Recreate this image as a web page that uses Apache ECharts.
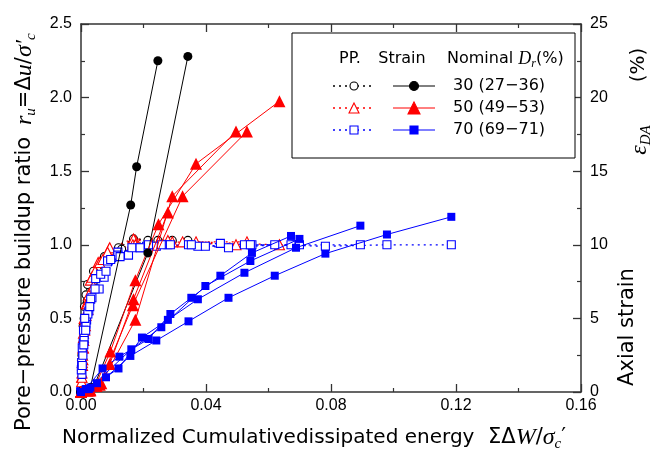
<!DOCTYPE html>
<html>
<head>
<meta charset="utf-8">
<script src="https://cdn.jsdelivr.net/npm/echarts@6/dist/echarts.min.js"></script>
<style>html,body{margin:0;padding:0;background:#fff;}#chart{width:652px;height:452px;}</style>
</head>
<body>
<div id="chart"></div>
<script>
// ---------- tick labels ----------
const xTickLabels = ['0.00', '0.04', '0.08', '0.12', '0.16'];
const ruTickLabels = ['0.0', '0.5', '1.0', '1.5', '2.0', '2.5'];
const strainTickLabels = ['0', '5', '10', '15', '20', '25'];
const legendLabels = ['30 (27−36)', '50 (49−53)', '70 (69−71)'];

// ---------- Dr 30 % : [ΣΔW/σc', value] ----------
const dr30_pp_1 = [[0,0],[0.0003,0.25],[0.0007,0.45],[0.0011,0.58],[0.0016,0.66],[0.0021,0.73],[0.004,0.82],[0.0075,0.92],[0.012,0.98],[0.0168,1.04],[0.0246,1.03]];
const dr30_pp_2 = [[0,0],[0.0005,0.3],[0.001,0.5],[0.002,0.62],[0.004,0.75],[0.008,0.9],[0.013,0.97],[0.0214,1.03],[0.0292,1.03],[0.0342,1.03]];
const dr30_strain_1 = [[0,0],[0.0015,0.1],[0.003,0.3],[0.0159,12.7],[0.0178,15.3],[0.0246,22.5]];
const dr30_strain_2 = [[0,0],[0.002,0.1],[0.004,0.3],[0.0214,9.45],[0.0342,22.8]];

// ---------- Dr 50 % ----------
const dr50_pp_1 = [[0,0],[0.0002,0.1],[0.0004,0.2],[0.0006,0.3],[0.0008,0.4],[0.001,0.5],[0.0017,0.6],[0.003,0.76],[0.0055,0.88],[0.009,0.97],[0.0174,1.03],[0.0248,1.02],[0.0368,1.02],[0.0635,1.0]];
const dr50_pp_2 = [[0,0],[0.0003,0.13],[0.0005,0.25],[0.0008,0.37],[0.0011,0.48],[0.002,0.6],[0.0035,0.78],[0.006,0.88],[0.0092,0.98],[0.0168,1.04],[0.0278,1.03]];
const dr50_pp_3 = [[0,0],[0.0002,0.07],[0.0005,0.18],[0.0008,0.3],[0.0012,0.42],[0.0016,0.52],[0.0025,0.66],[0.0045,0.82],[0.0085,0.95],[0.0166,1.0],[0.0325,1.02],[0.0531,1.02]];
const dr50_pp_4 = [[0,0],[0.0003,0.1],[0.0006,0.22],[0.0009,0.35],[0.0014,0.45],[0.0022,0.56],[0.004,0.72],[0.007,0.9],[0.0174,1.0],[0.0292,1.02],[0.0496,1.0]];
const dr50_strain_1 = [[0,0],[0.002,0.1],[0.0045,0.4],[0.0094,2.75],[0.0174,7.6],[0.0248,11.4],[0.0368,15.5],[0.0635,19.75]];
const dr50_strain_2 = [[0,0],[0.0025,0.1],[0.005,0.4],[0.0092,1.9],[0.0168,6.3],[0.0278,12.2]];
const dr50_strain_3 = [[0,0],[0.003,0.1],[0.006,0.5],[0.0166,5.9],[0.0325,13.3],[0.0531,17.7]];
const dr50_strain_4 = [[0,0],[0.003,0.15],[0.0065,0.6],[0.0174,4.9],[0.0292,13.3],[0.0496,17.7]];

// ---------- Dr 70 % ----------
const dr70_pp_1 = [[0,0],[0.0002,0.2],[0.0005,0.27],[0.0007,0.33],[0.001,0.39],[0.0013,0.44],[0.0018,0.49],[0.0025,0.55],[0.0035,0.64],[0.0058,0.7],[0.0085,0.89],[0.0118,0.95],[0.019,0.98],[0.0241,0.99],[0.0344,1.0],[0.0472,0.98],[0.062,1.0],[0.0782,0.99],[0.0979,1.0],[0.1185,1.0]];
const dr70_pp_2 = [[0,0],[0.0003,0.12],[0.0006,0.25],[0.001,0.35],[0.0016,0.46],[0.0022,0.53],[0.0047,0.77],[0.0074,0.78],[0.0118,0.93],[0.0152,0.93],[0.021,0.99],[0.0278,1.0],[0.0374,0.99],[0.0523,1.0],[0.0688,1.0],[0.0894,1.0]];
const dr70_pp_3 = [[0,0],[0.0001,0.15],[0.0004,0.3],[0.0008,0.42],[0.0012,0.5],[0.0031,0.63],[0.0063,0.8],[0.0095,0.9],[0.0163,0.98],[0.0216,1.0],[0.0286,1.0],[0.0353,1.0],[0.0446,1.01],[0.0547,1.0],[0.0672,1.0]];
const dr70_pp_4 = [[0,0],[0.0004,0.18],[0.0009,0.32],[0.0015,0.42],[0.0028,0.58],[0.0045,0.7],[0.008,0.82],[0.0125,0.92],[0.0189,0.98],[0.0257,1.0],[0.0398,0.99],[0.0542,1.0],[0.0699,1.0]];
const dr70_strain_1 = [[0,0],[0.0025,0.2],[0.008,1.0],[0.0158,2.45],[0.0241,3.5],[0.0344,4.8],[0.0472,6.4],[0.062,7.9],[0.0782,9.4],[0.0979,10.7],[0.1185,11.9]];
const dr70_strain_2 = [[0,0],[0.002,0.2],[0.0051,0.6],[0.012,1.6],[0.0195,3.7],[0.0278,4.9],[0.0374,6.3],[0.0523,8.1],[0.0688,9.8],[0.0894,11.3]];
const dr70_strain_3 = [[0,0],[0.0015,0.2],[0.0069,1.6],[0.0123,2.4],[0.0216,3.6],[0.0286,5.3],[0.0353,6.4],[0.0446,7.9],[0.0547,9.45],[0.0672,10.6]];
const dr70_strain_4 = [[0,0],[0.003,0.3],[0.0161,2.9],[0.0257,4.4],[0.0398,7.2],[0.0542,8.9],[0.0699,10.4]];

// ---------- styling ----------
const FONT_NUM = "'Liberation Sans', Arial, sans-serif";
const FONT_TXT = "'DejaVu Sans', 'Liberation Sans', sans-serif";
const FONT_MATH = "'Liberation Serif', 'DejaVu Serif', serif";
const BLACK = '#000000', RED = '#ff0000', BLUE = '#0000ff';
const AX = '#333333';
const DOT = [2, 4];

const groups = [
  {color: BLACK, symbol: 'circle', ppSize: 8, stSize: 9, pp: [dr30_pp_1, dr30_pp_2], st: [dr30_strain_1, dr30_strain_2]},
  {color: RED, symbol: 'triangle', ppSize: 10, stSize: 12, pp: [dr50_pp_1, dr50_pp_2, dr50_pp_3, dr50_pp_4], st: [dr50_strain_1, dr50_strain_2, dr50_strain_3, dr50_strain_4]},
  {color: BLUE, symbol: 'rect', ppSize: 8, stSize: 8, pp: [dr70_pp_1, dr70_pp_2, dr70_pp_3, dr70_pp_4], st: [dr70_strain_1, dr70_strain_2, dr70_strain_3, dr70_strain_4]}
];

const series = [];
groups.forEach(g => {
  g.pp.forEach(d => series.push({
    type: 'line', data: d, xAxisIndex: 0, yAxisIndex: 0, clip: false,
    symbol: g.symbol, symbolSize: g.ppSize, showSymbol: true, animation: false,
    lineStyle: {color: g.color, width: 1.3, type: DOT},
    itemStyle: {color: '#ffffff', borderColor: g.color, borderWidth: 1.1},
    emphasis: {disabled: true}, z: 2
  }));
});
groups.forEach(g => {
  g.st.forEach(d => series.push({
    type: 'line', data: d, xAxisIndex: 0, yAxisIndex: 1, clip: false,
    symbol: g.symbol, symbolSize: g.stSize, showSymbol: true, animation: false,
    lineStyle: {color: g.color, width: 1},
    itemStyle: {color: g.color, borderWidth: 0},
    emphasis: {disabled: true}, z: 3
  }));
});

function axisCommon() {
  return {
    axisLine: {show: true, onZero: false, lineStyle: {color: AX, width: 1.5}},
    axisTick: {show: true, inside: true, length: 8, lineStyle: {color: AX, width: 1.3}},
    minorTick: {show: true, splitNumber: 2, length: 4, lineStyle: {color: AX, width: 1.2}},
    splitLine: {show: false}, minorSplitLine: {show: false}
  };
}

const xAxes = [
  Object.assign(axisCommon(), {type: 'value', min: 0, max: 0.16, interval: 0.04, position: 'bottom',
    axisLabel: {formatter: v => xTickLabels[Math.round(v / 0.04)], fontSize: 16, color: '#000', fontFamily: FONT_NUM, margin: 6}}),
  Object.assign(axisCommon(), {type: 'value', min: 0, max: 0.16, interval: 0.04, position: 'top',
    axisLabel: {show: false}})
];
const yAxes = [
  Object.assign(axisCommon(), {type: 'value', min: 0, max: 2.5, interval: 0.5, position: 'left',
    axisLabel: {formatter: v => ruTickLabels[Math.round(v / 0.5)], fontSize: 16, color: '#000', fontFamily: FONT_NUM, margin: 9}}),
  Object.assign(axisCommon(), {type: 'value', min: 0, max: 25, interval: 5, position: 'right',
    axisLabel: {formatter: v => strainTickLabels[Math.round(v / 5)], fontSize: 16, color: '#000', fontFamily: FONT_NUM, margin: 9}})
];

// ---------- titles & legend (graphic) ----------
const mathRich = {
  n: {fontFamily: FONT_TXT, fontSize: 21, fill: '#000', lineHeight: 28, verticalAlign: 'middle'},
  r: {fontFamily: FONT_MATH, fontStyle: 'italic', fontSize: 24, fill: '#000', lineHeight: 28, verticalAlign: 'middle'},
  s: {fontFamily: FONT_MATH, fontStyle: 'italic', fontSize: 15, fill: '#000', lineHeight: 15, verticalAlign: 'bottom'}
};
function txt(x, y, text, font, align, rot, rich) {
  const st = {text: text, font: font, fill: '#000', align: align, verticalAlign: 'middle', textAlign: align, textVerticalAlign: 'middle'};
  if (rich) st.rich = rich;
  return {type: 'text', x: x, y: y, rotation: rot || 0, style: st, z: 100};
}
const graphics = [];
graphics.push(txt(25, 431, 'Pore−pressure buildup ratio', '21px ' + FONT_TXT, 'left', Math.PI / 2));
graphics.push(txt(25, 125, '{r|r}{s|u}{n|=Δ}{r|u}{n|/}{r|σ′}{s|c}', '21px ' + FONT_TXT, 'left', Math.PI / 2, mathRich));
graphics.push(txt(62, 438, 'Normalized Cumulativedissipated energy', '20px ' + FONT_TXT, 'left', 0));
graphics.push(txt(488, 438, '{n|ΣΔ}{r|W}{n|/}{r|σ}{s|c}{n|′}', '20px ' + FONT_TXT, 'left', 0, mathRich));
graphics.push(txt(628, 327, 'Axial strain', '21px ' + FONT_TXT, 'center', Math.PI / 2));
graphics.push(txt(640, 140, '{r|ε}{s|DA}', '20px ' + FONT_TXT, 'center', Math.PI / 2, mathRich));
graphics.push(txt(639, 65, '(%)', '20px ' + FONT_TXT, 'center', Math.PI / 2));

// legend box
graphics.push({type: 'rect', shape: {x: 292, y: 33, width: 283, height: 125}, style: {fill: '#fff', stroke: '#000', lineWidth: 1}, z: 90});
graphics.push(txt(350, 59, 'PP.', '16px ' + FONT_TXT, 'center', 0));
graphics.push(txt(402, 59, 'Strain', '16px ' + FONT_TXT, 'center', 0));
graphics.push(txt(447, 59, '{a|Nominal }{d|D}{s|r}{a|(%)}', '16px ' + FONT_TXT, 'left', 0, {
  a: {fontFamily: FONT_TXT, fontSize: 16, fill: '#000', lineHeight: 22, verticalAlign: 'middle'},
  d: {fontFamily: FONT_MATH, fontStyle: 'italic', fontSize: 18, fill: '#000', lineHeight: 22, verticalAlign: 'middle'},
  s: {fontFamily: FONT_MATH, fontStyle: 'italic', fontSize: 12, fill: '#000', lineHeight: 12, verticalAlign: 'bottom'}
}));
const rowY = [86, 108, 130];
function marker(sym, cx, cy, size, fill, stroke) {
  const style = {fill: fill, stroke: stroke, lineWidth: 1.1};
  if (sym === 'circle') return {type: 'circle', shape: {cx: cx, cy: cy, r: size / 2}, style: style, z: 102};
  if (sym === 'rect') return {type: 'rect', shape: {x: cx - size / 2, y: cy - size / 2, width: size, height: size}, style: style, z: 102};
  return {type: 'polygon', shape: {points: [[cx, cy - size / 2], [cx + size / 2, cy + size / 2], [cx - size / 2, cy + size / 2]]}, style: style, z: 102};
}
groups.forEach((g, i) => {
  const y = rowY[i];
  graphics.push({type: 'line', shape: {x1: 333, y1: y, x2: 373, y2: y}, style: {stroke: g.color, lineWidth: 1.3, lineDash: DOT}, z: 101});
  graphics.push(marker(g.symbol, 354, y, g.ppSize, '#fff', g.color));
  graphics.push({type: 'line', shape: {x1: 393, y1: y, x2: 435, y2: y}, style: {stroke: g.color, lineWidth: 1}, z: 101});
  graphics.push(marker(g.symbol, 414, y, g.stSize, g.color, g.color));
  graphics.push(txt(453, y, legendLabels[i], '16px ' + FONT_TXT, 'left', 0));
});

const chart = echarts.init(document.getElementById('chart'), null, {renderer: 'canvas', width: 652, height: 452});
chart.setOption({
  animation: false,
  backgroundColor: '#ffffff',
  grid: {left: 81, right: 71, top: 24, bottom: 60, containLabel: false, outerBoundsMode: 'none', show: false},
  xAxis: xAxes,
  yAxis: yAxes,
  series: series,
  graphic: {elements: graphics}
});
</script>
</body>
</html>
